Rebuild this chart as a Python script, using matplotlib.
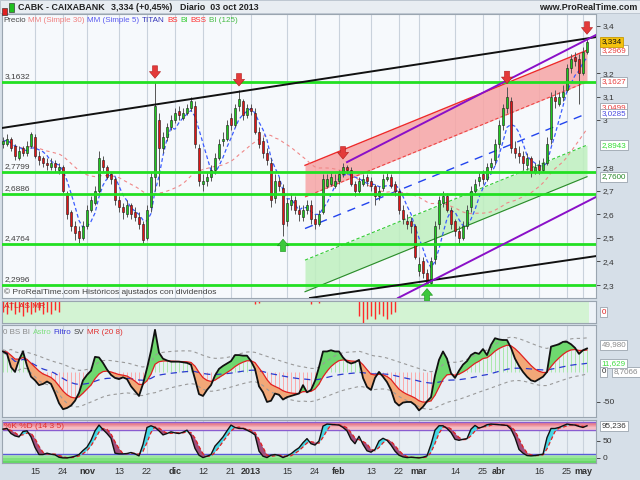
import numpy as np
import pandas as pd
import matplotlib
matplotlib.use('Agg')
import matplotlib.pyplot as plt
from matplotlib.patches import Rectangle
from matplotlib.transforms import blended_transform_factory as blend

plt.rcParams['font.family'] = ['Liberation Sans', 'DejaVu Sans']

# ---- datos ----
holidays = ['2012-12-25', '2012-12-26', '2013-01-01', '2013-03-29', '2013-04-01', '2013-05-01']
dates = pd.bdate_range('2012-10-03', '2013-05-03')
dates = dates[~dates.isin(pd.to_datetime(holidays))]

opens = [2.90, 2.90, 2.92, 2.89, 2.84, 2.88, 2.86, 2.89, 2.93, 2.85,
         2.84, 2.82, 2.80, 2.82, 2.79, 2.80, 2.69, 2.61, 2.55, 2.53,
         2.50, 2.55, 2.62, 2.65, 2.70, 2.83, 2.80, 2.77, 2.75, 2.66,
         2.63, 2.60, 2.64, 2.61, 2.59, 2.56, 2.50, 2.63, 2.76, 3.00,
         2.88, 2.93, 2.97, 3.00, 3.04, 3.01, 3.03, 3.05, 3.06, 2.88,
         2.73, 2.74, 2.76, 2.79, 2.84, 2.91, 2.92, 3.01, 2.98, 3.06,
         3.08, 3.02, 3.05, 3.03, 2.95, 2.91, 2.86, 2.82, 2.67, 2.74,
         2.71, 2.57, 2.64, 2.66, 2.62, 2.59, 2.62, 2.64, 2.58, 2.56,
         2.61, 2.72, 2.73, 2.72, 2.74, 2.77, 2.80, 2.79, 2.73, 2.70,
         2.73, 2.76, 2.74, 2.72, 2.68, 2.71, 2.75, 2.76, 2.73, 2.70,
         2.62, 2.57, 2.57, 2.55, 2.36, 2.40, 2.35, 2.31, 2.41, 2.56,
         2.65, 2.68, 2.62, 2.57, 2.53, 2.50, 2.55, 2.63, 2.70, 2.74,
         2.77, 2.75, 2.80, 2.83, 2.90, 2.98, 3.05, 3.08, 2.88, 2.86,
         2.85, 2.81, 2.84, 2.78, 2.81, 2.79, 2.82, 2.92, 3.10, 3.07,
         3.10, 3.13, 3.22, 3.27, 3.26, 3.20, 3.29]
highs = [2.93, 2.94, 2.93, 2.90, 2.89, 2.89, 2.91, 2.95, 2.94, 2.87,
         2.85, 2.84, 2.84, 2.83, 2.82, 2.81, 2.70, 2.62, 2.57, 2.55,
         2.57, 2.64, 2.68, 2.72, 2.87, 2.85, 2.81, 2.78, 2.76, 2.68,
         2.65, 2.66, 2.65, 2.63, 2.61, 2.57, 2.64, 2.78, 3.163, 3.03,
         2.95, 2.99, 3.02, 3.05, 3.06, 3.05, 3.07, 3.10, 3.08, 2.90,
         2.77, 2.78, 2.81, 2.86, 2.92, 2.95, 3.00, 3.03, 3.07, 3.13,
         3.09, 3.07, 3.07, 3.05, 2.97, 2.93, 2.88, 2.84, 2.77, 2.76,
         2.73, 2.67, 2.69, 2.68, 2.64, 2.64, 2.66, 2.66, 2.60, 2.62,
         2.77, 2.77, 2.78, 2.77, 2.79, 2.82, 2.81, 2.80, 2.74, 2.76,
         2.77, 2.77, 2.76, 2.73, 2.72, 2.77, 2.78, 2.77, 2.74, 2.71,
         2.64, 2.60, 2.59, 2.56, 2.42, 2.42, 2.37, 2.42, 2.57, 2.68,
         2.70, 2.69, 2.63, 2.58, 2.55, 2.57, 2.64, 2.72, 2.75, 2.78,
         2.79, 2.82, 2.84, 2.92, 3.00, 3.07, 3.14, 3.10, 2.91, 2.89,
         2.87, 2.86, 2.85, 2.82, 2.83, 2.84, 2.93, 3.12, 3.13, 3.12,
         3.15, 3.24, 3.28, 3.29, 3.28, 3.31, 3.35]
lows = [2.88, 2.89, 2.87, 2.83, 2.83, 2.85, 2.85, 2.88, 2.84, 2.81,
        2.80, 2.79, 2.79, 2.78, 2.77, 2.69, 2.58, 2.53, 2.49, 2.48,
        2.49, 2.54, 2.61, 2.64, 2.69, 2.78, 2.75, 2.73, 2.64, 2.61,
        2.58, 2.59, 2.58, 2.57, 2.54, 2.476, 2.49, 2.61, 2.70, 2.72,
        2.86, 2.91, 2.96, 2.99, 3.00, 3.00, 3.02, 3.04, 2.88, 2.72,
        2.70, 2.72, 2.74, 2.77, 2.83, 2.89, 2.91, 2.96, 2.97, 3.04,
        3.00, 3.01, 3.02, 2.94, 2.88, 2.84, 2.81, 2.63, 2.65, 2.70,
        2.51, 2.55, 2.62, 2.60, 2.57, 2.57, 2.60, 2.56, 2.54, 2.55,
        2.60, 2.71, 2.72, 2.71, 2.73, 2.76, 2.77, 2.72, 2.68, 2.69,
        2.72, 2.72, 2.70, 2.64, 2.66, 2.70, 2.74, 2.71, 2.68, 2.60,
        2.56, 2.54, 2.52, 2.41, 2.34, 2.33, 2.30, 2.30, 2.39, 2.54,
        2.63, 2.61, 2.54, 2.51, 2.48, 2.49, 2.54, 2.61, 2.69, 2.72,
        2.73, 2.74, 2.79, 2.81, 2.88, 2.96, 3.03, 2.86, 2.84, 2.82,
        2.79, 2.79, 2.76, 2.77, 2.77, 2.78, 2.81, 2.90, 3.05, 3.06,
        3.08, 3.12, 3.20, 3.23, 3.07, 3.19, 3.28]
closes = [2.91, 2.92, 2.88, 2.85, 2.87, 2.86, 2.89, 2.94, 2.85, 2.83,
          2.82, 2.81, 2.82, 2.80, 2.80, 2.70, 2.60, 2.55, 2.52, 2.50,
          2.55, 2.62, 2.66, 2.70, 2.84, 2.80, 2.76, 2.75, 2.66, 2.63,
          2.61, 2.64, 2.60, 2.59, 2.56, 2.49, 2.62, 2.76, 3.06, 2.88,
          2.93, 2.97, 3.00, 3.03, 3.02, 3.03, 3.05, 3.08, 2.90, 2.74,
          2.74, 2.76, 2.79, 2.84, 2.90, 2.92, 2.98, 2.98, 3.05, 3.09,
          3.02, 3.05, 3.04, 2.95, 2.90, 2.86, 2.83, 2.66, 2.74, 2.72,
          2.56, 2.65, 2.66, 2.62, 2.60, 2.62, 2.64, 2.58, 2.56, 2.60,
          2.75, 2.75, 2.76, 2.74, 2.77, 2.80, 2.79, 2.73, 2.70, 2.74,
          2.75, 2.74, 2.72, 2.68, 2.70, 2.75, 2.76, 2.72, 2.70, 2.62,
          2.58, 2.56, 2.55, 2.42, 2.39, 2.35, 2.31, 2.40, 2.55, 2.66,
          2.68, 2.62, 2.56, 2.53, 2.50, 2.55, 2.62, 2.70, 2.73, 2.76,
          2.75, 2.80, 2.82, 2.90, 2.98, 3.05, 3.10, 2.88, 2.86, 2.85,
          2.82, 2.84, 2.78, 2.80, 2.79, 2.82, 2.90, 3.10, 3.08, 3.10,
          3.12, 3.22, 3.26, 3.25, 3.20, 3.29, 3.334]

levels = [3.1632, 2.7799, 2.6886, 2.4764, 2.2996]
level_labels = ['3,1632', '2,7799', '2,6886', '2,4764', '2,2996']

# lineas de tendencia (indice, precio)
black_hi = [(-0.25, 2.967), (148.25, 3.353)]
black_lo = [(76.75, 2.245), (148.25, 2.423)]
purple_hi = [(86.0, 2.822), (148.25, 3.362)]
purple_lo = [(98.75, 2.245), (148.25, 2.674)]

# canal de regresion
reg_x = [75.5, 146.0]
reg_mid = [2.54, 3.0285]
reg_sd = 0.1342

arrows_down = [38, 59, 85, 126, 146]
arrows_up = [70, 106]

atlas_idx = [0, 1, 2, 3, 4, 5, 6, 7, 8, 9, 10, 11, 12, 13, 14,
             63, 64, 77, 79, 89, 90, 91, 92, 93, 94, 95, 96, 97, 98]
atlas_len = [0.5, 0.6, 0.4, 0.6, 0.5, 0.7, 0.5, 0.6, 0.5, 0.4, 0.6, 0.5, 0.6, 0.4, 0.5,
             0.15, 0.1, 0.15, 0.1, 0.7, 1.0, 0.8, 0.7, 0.8, 0.6, 0.7, 0.8, 0.6, 0.5]

osc = [34, 30, 8, 0, 20, 34, 10, -8, -14, -22,
       -20, -16, -20, -35, -52, -62, -60, -56, -48, -35,
       -14, -5, 2, 25, 24, 15, 4, -5, -10, -12,
       -9, -12, -24, -32, -40, -20, 6, 35, 70, 32,
       22, 19, 17, 17, 17, 16, 15, 12, -12, -37,
       -40, -30, -22, -6, 5, 10, 14, 18, 28, 28,
       27, 27, 18, 5, -24, -34, -50, -48, -36, -38,
       -46, -42, -40, -38, -36, -22, -34, -30, -15, 8,
       34, 34, 36, 34, 34, 24, 17, 14, 16, 20,
       -10, -25, -30, -10, 0, -8, -17, -30, -50, -56,
       -51, -50, -50, -55, -64, -58, -49, -42, -6, 20,
       34, 22, -2, -10, 2, 12, 18, 28, 32, 30,
       38, 28, 45, 56, 54, 53, 53, 40, 22, 10,
       0, -8, -14, -16, -12, -8, 0, 42, 44, 46,
       50, 50, 46, 40, 30, 36, 39]

stoch_k = [85, 87, 72, 65, 62, 78, 80, 62, 31, 10,
           10, 14, 11, 9, 2, 0, 0, 2, 5, 10,
           22, 32, 52, 80, 97, 84, 72, 58, 14, 12,
           12, 13, 16, 12, 6, 40, 90, 95, 90, 80,
           68, 72, 77, 74, 72, 76, 82, 66, 28, 8,
           1, 5, 10, 35, 48, 62, 80, 97, 90, 87,
           87, 82, 76, 68, 20, 5, 1, 8, 10, 7,
           1, 6, 12, 22, 30, 45, 57, 42, 38, 50,
           94, 100, 99, 98, 97, 90, 80, 55, 42, 64,
           40, 21, 17, 25, 50, 58, 52, 38, 20, 8,
           3, 1, 2, 1, 0, 2, 6, 40, 82, 95,
           95, 87, 75, 55, 52, 55, 57, 85, 96, 88,
           92, 98, 100, 99, 98, 97, 96, 85, 60, 25,
           14, 7, 6, 7, 9, 11, 60, 87, 87, 90,
           95, 100, 98, 97, 93, 90, 95]

tick_dates = ['2012-10-15', '2012-10-24', '2012-11-01', '2012-11-13', '2012-11-22',
              '2012-12-03', '2012-12-12', '2012-12-21', '2013-01-02', '2013-01-15',
              '2013-01-24', '2013-02-01', '2013-02-13', '2013-02-22', '2013-03-01',
              '2013-03-14', '2013-03-25', '2013-04-02', '2013-04-16', '2013-04-25',
              '2013-05-02']
tick_labels = ['15', '24', 'nov', '13', '22', 'dic', '12', '21', '2013', '15',
               '24', 'feb', '13', '22', 'mar', '14', '25', 'abr', '16', '25', 'may']
bold_labels = ['nov', 'dic', '2013', 'feb', 'mar', 'abr', 'may']

price_ticks = [2.3, 2.4, 2.5, 2.6, 2.7, 2.8, 3.0, 3.1, 3.2, 3.4]
price_tags = [3.0535, 3.0285, 3.2969, 3.1627, 2.8943, 2.7600, 3.334]
price_tag_text = ['3,0499', '3,0285', '3,2969', '3,1627', '2,8943', '2,7600', '3,334']
price_tag_color = ['#e84040', '#4a4ae0', '#e84040', '#e84040', '#33dd33', '#2a8a2a', '#111111']

# ---- figura ----
W, H = 640, 480
fig = plt.figure(figsize=(6.4, 4.8), dpi=100, facecolor='#d6dfe8')


def px_axes(x0, y0, x1, y1, bg):
    a = fig.add_axes([x0 / W, 1 - y1 / H, (x1 - x0) / W, (y1 - y0) / H], facecolor=bg)
    for s in a.spines.values():
        s.set_color('#9aa5b0')
        s.set_linewidth(0.8)
    return a


def tag(a, y, txt, col, tr, fc='white', ec='#9aa4ae', z=8):
    a.text(1.009, y, txt, transform=tr, fontsize=5.8, color=col, va='center', ha='left', clip_on=False,
           bbox=dict(boxstyle='square,pad=0.18', fc=fc, ec=ec, lw=0.6), zorder=z)


ax = px_axes(2, 14, 596, 298, '#f6f9fc')
ax_at = px_axes(2, 301, 596, 323, '#eef3f8')
ax_os = px_axes(2, 325, 596, 417, '#e8eef4')
ax_st = px_axes(2, 420, 596, 463, '#e8eef4')

idx = np.arange(len(closes))
tick_pos = dates.get_indexer(pd.to_datetime(tick_dates))
for a in (ax, ax_at, ax_os, ax_st):
    a.set_xlim(-0.25, 148.25)
    for p in tick_pos:
        a.axvline(p, color='#c9d2dc', lw=0.8, zorder=0)
    a.tick_params(axis='x', length=0, labelbottom=False)
    a.yaxis.tick_right()
    a.tick_params(axis='y', labelsize=6, colors='#333333', length=3, width=0.6, pad=2)

# ---- panel de precios ----
o, h, l, c = map(np.array, (opens, highs, lows, closes))
ax.set_ylim(2.245, 3.451)
ax.set_yticks(price_ticks)
ax.yaxis.set_major_formatter(lambda v, p: ('%g' % round(v, 1)).replace('.', ','))

# canal de regresion
rx = np.array(reg_x)
rm = np.array(reg_mid)
ax.fill_between(rx, rm + reg_sd, rm + 2 * reg_sd, color='#f7a5a5', alpha=0.85, lw=0, zorder=1)
ax.fill_between(rx, rm - 2 * reg_sd, rm - reg_sd, color='#bff0bf', alpha=0.85, lw=0, zorder=1)
ax.plot(rx, rm + 2 * reg_sd, color='#ee2a2a', lw=1.0, zorder=2)
ax.plot(rx, rm + reg_sd, color='#ee4444', lw=0.8, ls=(0, (3, 2)), zorder=2)
ax.plot(rx, rm, color='#2244ee', lw=1.0, ls=(0, (6, 5)), zorder=2)
ax.plot(rx, rm - reg_sd, color='#33cc33', lw=0.8, ls=(0, (3, 2)), zorder=2)
ax.plot(rx, rm - 2 * reg_sd, color='#2a8a2a', lw=0.8, zorder=2)

# medias moviles
s = pd.Series(closes)
ax.plot(idx, s.rolling(30, min_periods=1).mean(), color='#f08888', lw=0.8, ls=(0, (3, 3)), zorder=2)
ax.plot(idx, s.rolling(5, min_periods=1).mean(), color='#3a5cff', lw=0.9, ls=(0, (3, 2)), zorder=2)

# velas
up = c >= o
ax.vlines(idx, l, h, color='#555555', lw=0.7, zorder=3)
lo_b = np.minimum(o, c)
hb = np.maximum(np.abs(c - o), 0.004)
ax.bar(idx[up], hb[up], bottom=lo_b[up], width=0.72, color='#1ec81e', edgecolor='#1a1a1a', lw=0.4, zorder=4)
ax.bar(idx[~up], hb[~up], bottom=lo_b[~up], width=0.72, color='#e01515', edgecolor='#1a1a1a', lw=0.4, zorder=4)

# soportes / resistencias
for lv, lab in zip(levels, level_labels):
    ax.axhline(lv, color='#22e022', lw=2, zorder=5)
    ax.text(0.004, lv + 0.008, lab, transform=blend(ax.transAxes, ax.transData),
            fontsize=6, color='#404040', va='bottom', zorder=6)

for line, col in ((black_hi, '#111111'), (black_lo, '#111111'), (purple_hi, '#8a10c8'), (purple_lo, '#8a10c8')):
    xs, ys = zip(*line)
    ax.plot(xs, ys, color=col, lw=1.4, zorder=5)

arrow_style = 'simple,head_width=1.0,head_length=0.6,tail_width=0.45'
for i in arrows_down:
    ax.annotate('', xy=(i, highs[i] + 0.015), xytext=(i, highs[i] + 0.068),
                arrowprops=dict(arrowstyle=arrow_style, fc='#e43a3a', ec='#b01818', lw=0.4,
                                mutation_scale=8, shrinkA=0, shrinkB=0), zorder=7)
for i in arrows_up:
    ax.annotate('', xy=(i, lows[i] - 0.015), xytext=(i, lows[i] - 0.068),
                arrowprops=dict(arrowstyle=arrow_style, fc='#3cc83c', ec='#189018', lw=0.4,
                                mutation_scale=8, shrinkA=0, shrinkB=0), zorder=7)

tr = blend(ax.transAxes, ax.transData)
for v, t, col in zip(price_tags, price_tag_text, price_tag_color):
    if t == '3,334':
        tag(ax, v, t, col, tr, fc='#f4c20d', ec='#c89a00', z=9)
    else:
        tag(ax, v, t, col, tr)

ax.text(0.004, 0.006, '© ProRealTime.com Históricos ajustados con dividendos', transform=ax.transAxes,
        fontsize=6, color='#404040', va='bottom')

# ---- ATLAS MR ----
ax_at.set_ylim(-1, 1)
ax_at.set_yticks([])
ax_at.fill_between([-0.25, 146.5], -1, 1, color='#d3f3d3', lw=0, zorder=1)
ax_at.vlines(atlas_idx, 1 - 2 * np.array(atlas_len), 1, color='#ff2a2a', lw=1.0, zorder=2)
ax_at.text(0.004, 0.92, 'ATLAS MR', transform=ax_at.transAxes, fontsize=6, color='#e02020', va='top', zorder=3)
tag(ax_at, 0, '0', '#e02020', blend(ax_at.transAxes, ax_at.transData))

# ---- oscilador ----
os_s = pd.Series(osc, dtype=float)
sig = os_s.ewm(span=8, adjust=False).mean()
mid = os_s.ewm(span=25).mean()
sd = os_s.ewm(span=40).std().bfill()
base = os_s.ewm(span=60).mean()
ax_os.set_ylim(-75, 78)
ax_os.set_yticks([-50])
ax_os.yaxis.set_major_formatter(lambda v, p: '%d' % v)
ax_os.vlines(idx, 0, sig, colors=np.where(sig < 0, '#ffa0a0', '#a0e8a0'), lw=0.6, zorder=1)
ax_os.fill_between(idx, os_s, sig, where=os_s >= sig, interpolate=True, color='#6fd86f', lw=0, zorder=2)
ax_os.fill_between(idx, os_s, sig, where=os_s < sig, interpolate=True, color='#f2a878', lw=0, zorder=2)
ax_os.plot(idx, mid + 1.0 * sd, color='#9a9a9a', lw=0.8, ls=(0, (3, 3)), zorder=2)
ax_os.plot(idx, mid - 1.0 * sd, color='#9a9a9a', lw=0.8, ls=(0, (3, 3)), zorder=2)
ax_os.plot(idx, base, color='#2a3ad0', lw=0.9, ls=(0, (5, 4)), zorder=3)
ax_os.plot(idx, sig, color='#e02020', lw=0.9, zorder=3)
ax_os.plot(idx, os_s, color='#111111', lw=1.3, zorder=4)
tr = blend(ax_os.transAxes, ax_os.transData)
tag(ax_os, 45, '49,980', '#8a8a8a', tr)
tag(ax_os, 14, '11,629', '#44dd44', tr)
ax_os.text(1.009, 0, '0', transform=tr, fontsize=5.8, color='#333333', va='center', clip_on=False,
           bbox=dict(boxstyle='square,pad=0.15', fc='white', ec='#9aa4ae', lw=0.6), zorder=8)
ax_os.text(1.03, 0, '8,7066', transform=tr, fontsize=5.8, color='#8a8a8a', va='center', clip_on=False, zorder=7,
           bbox=dict(boxstyle='square,pad=0.18', fc='white', ec='#9aa4ae', lw=0.6))

# ---- estocastico ----
k = pd.Series(stoch_k, dtype=float)
d = k.rolling(3, min_periods=1).mean()
ax_st.set_ylim(-15, 112)
ax_st.set_yticks([0, 50])
ax_st.yaxis.set_major_formatter(lambda v, p: '%d' % v)
band_cols = ['#e5707e', '#e98390', '#ed96a1', '#f1a9b2', '#f5bcc3', '#f8ced3']
edges = np.linspace(106, 82, len(band_cols) + 1)
for j, col in enumerate(band_cols):
    ax_st.axhspan(edges[j + 1], edges[j], color=col, lw=0, zorder=1)
gcols = ['#b8f0b8', '#9ae89a', '#7fe07f', '#66d866']
gedges = np.linspace(12, -15, len(gcols) + 1)
for j, col in enumerate(gcols):
    ax_st.axhspan(gedges[j + 1], gedges[j], color=col, lw=0, zorder=1)
ax_st.axhline(106, color='#8a5cd0', lw=1, zorder=2)
ax_st.axhline(82, color='#8a5cd0', lw=1, zorder=2)
ax_st.axhline(12, color='#5a5ad8', lw=1, zorder=2)
ax_st.fill_between(idx, k, d, where=k >= d, interpolate=True, color='#48d6e4', lw=0, zorder=3)
ax_st.fill_between(idx, k, d, where=k < d, interpolate=True, color='#a24e7c', lw=0, zorder=3)
ax_st.plot(idx, d, color='#e02020', lw=0.9, ls=(0, (3, 2)), zorder=4)
ax_st.plot(idx, k, color='#111111', lw=1.0, zorder=5)
ax_st.text(0.004, 0.93, '%K %D (14 3 5)', transform=ax_st.transAxes, fontsize=6, color='#e03030', va='top', zorder=6)
tag(ax_st, 95.236, '95,236', '#333333', blend(ax_st.transAxes, ax_st.transData))

ax_st.set_xticks(tick_pos)
ax_st.set_xticklabels(tick_labels)
ax_st.tick_params(axis='x', labelbottom=True, labelsize=6.5, colors='#333333', pad=3)
for t in ax_st.get_xticklabels():
    if t.get_text() in bold_labels:
        t.set_fontweight('bold')

# ---- cabecera ----
fig.add_artist(Rectangle((0, 1 - 13 / H), 1, 13 / H, transform=fig.transFigure, fc='#e8edf2', ec='#b8c2cc', lw=0.6))
fig.add_artist(Rectangle((2 / W, 1 - 15 / H), 5 / W, 7 / H, transform=fig.transFigure, fc='#e02020', ec='#222222', lw=0.4))
fig.add_artist(Rectangle((9 / W, 1 - 12 / H), 5 / W, 9 / H, transform=fig.transFigure, fc='#20c020', ec='#222222', lw=0.4))
fig.text(18 / W, 1 - 7 / H, 'CABK - CAIXABANK', fontsize=6.4, fontweight='bold', color='#222222', va='center')
fig.text(111 / W, 1 - 7 / H, '3,334 (+0,45%)', fontsize=6.4, fontweight='bold', color='#222222', va='center')
fig.text(180 / W, 1 - 7 / H, 'Diario  03 oct 2013', fontsize=6.4, fontweight='bold', color='#222222', va='center')
fig.text(637 / W, 1 - 7 / H, 'www.ProRealTime.com', fontsize=6.4, fontweight='bold', color='#222222',
         va='center', ha='right')


def write_parts(x_px, y_px, parts, size):
    r = fig.canvas.get_renderer()
    for txt, col in parts:
        t = fig.text(x_px / W, 1 - y_px / H, txt, color=col, fontsize=size, va='center', ha='left', zorder=10)
        x_px = t.get_window_extent(renderer=r).x1 + 2.5


write_parts(3, 21, [('Precio', '#444444'), ('MM (Simple 30)', '#f07f7f'), ('MM (Simple 5)', '#5a5af0'),
                    ('TITAN', '#3434b8'), ('BS', '#ff3030'), ('BI', '#33cc33'), ('BSS', '#ff3030'),
                    ('BI (125)', '#44bb44')], 5.8)
write_parts(3, 332, [('0 BS BI', '#8a8a8a'), ('Astro', '#7fe07f'), ('Filtro', '#3a3ad8'),
                     ('SV', '#444444'), ('MR (20 8)', '#e03030')], 5.8)

fig.savefig('out.png', dpi=100, facecolor=fig.get_facecolor())
